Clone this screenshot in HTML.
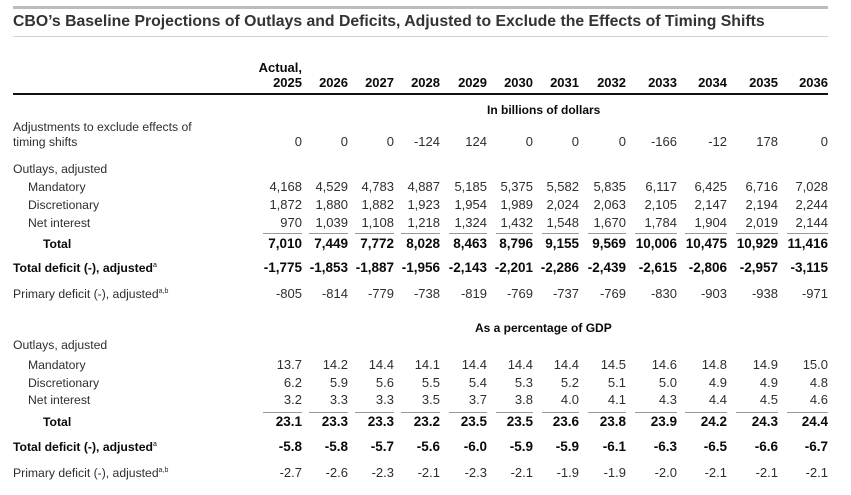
<!DOCTYPE html>
<html><head><meta charset="utf-8"><style>
*{margin:0;padding:0;box-sizing:border-box}
html,body{width:851px;height:495px;background:#fff;overflow:hidden}
body{position:relative;font-family:"Liberation Sans",Arial,sans-serif;color:#2e2e2e}
.a{position:absolute;white-space:nowrap}
.ln{position:absolute}
.r{position:absolute;left:0;width:851px;height:16px;line-height:16px}
.r>span{position:absolute;top:0;white-space:nowrap;font-size:13px}
.r>.l{left:13px;font-size:12.2px}
.r>.l2{left:28px;font-size:12.2px}
.r>.l3{left:43px;font-size:12.2px}
.b{font-weight:bold;color:#0a0a0a}
.b>span{font-size:13.5px}
.h>span{font-size:13px}
.s{font-style:normal;font-size:7px;position:relative;top:-5px;font-weight:normal}
.c1{right:549px}.c2{right:503px}.c3{right:457px}.c4{right:411px}.c5{right:364px}.c6{right:318px}
.c7{right:272px}.c8{right:225px}.c9{right:174px}.c10{right:124px}.c11{right:73px}.c12{right:23px}
.u{position:absolute;height:1.5px;background:#999}
</style></head><body>

<div class="ln" style="left:13px;top:6px;width:815px;height:2.5px;background:#bcbcbc"></div>
<div class="a" style="left:13px;top:13px;font-size:15.8px;line-height:18px;font-weight:bold;color:#333">CBO’s Baseline Projections of Outlays and Deficits, Adjusted to Exclude the Effects of Timing Shifts</div>
<div class="ln" style="left:13px;top:36px;width:815px;height:1px;background:#d2d2d2"></div>

<div class="r b h" style="top:59.5px"><span class="c1">Actual,</span></div>
<div class="r b h" style="top:74.5px"><span class="c1">2025</span><span class="c2">2026</span><span class="c3">2027</span><span class="c4">2028</span><span class="c5">2029</span><span class="c6">2030</span><span class="c7">2031</span><span class="c8">2032</span><span class="c9">2033</span><span class="c10">2034</span><span class="c11">2035</span><span class="c12">2036</span></div>
<div class="ln" style="left:13px;top:92.5px;width:815px;height:2px;background:#111"></div>

<div class="a" style="left:487px;top:102px;font-size:12px;line-height:16px;font-weight:bold;color:#0a0a0a">In billions of dollars</div>

<div class="r" style="top:119px"><span class="l">Adjustments to exclude effects of</span></div>
<div class="r" style="top:134px"><span class="l">timing shifts</span><span class="c1">0</span><span class="c2">0</span><span class="c3">0</span><span class="c4">-124</span><span class="c5">124</span><span class="c6">0</span><span class="c7">0</span><span class="c8">0</span><span class="c9">-166</span><span class="c10">-12</span><span class="c11">178</span><span class="c12">0</span></div>

<div class="r" style="top:161px"><span class="l">Outlays, adjusted</span></div>
<div class="r" style="top:179px"><span class="l2">Mandatory</span><span class="c1">4,168</span><span class="c2">4,529</span><span class="c3">4,783</span><span class="c4">4,887</span><span class="c5">5,185</span><span class="c6">5,375</span><span class="c7">5,582</span><span class="c8">5,835</span><span class="c9">6,117</span><span class="c10">6,425</span><span class="c11">6,716</span><span class="c12">7,028</span></div>
<div class="r" style="top:197px"><span class="l2">Discretionary</span><span class="c1">1,872</span><span class="c2">1,880</span><span class="c3">1,882</span><span class="c4">1,923</span><span class="c5">1,954</span><span class="c6">1,989</span><span class="c7">2,024</span><span class="c8">2,063</span><span class="c9">2,105</span><span class="c10">2,147</span><span class="c11">2,194</span><span class="c12">2,244</span></div>
<div class="r" style="top:215px"><span class="l2">Net interest</span><span class="c1">970</span><span class="c2">1,039</span><span class="c3">1,108</span><span class="c4">1,218</span><span class="c5">1,324</span><span class="c6">1,432</span><span class="c7">1,548</span><span class="c8">1,670</span><span class="c9">1,784</span><span class="c10">1,904</span><span class="c11">2,019</span><span class="c12">2,144</span></div>

<div class="u" style="top:232.5px;left:263px;width:39px"></div>
<div class="u" style="top:232.5px;left:309px;width:39px"></div>
<div class="u" style="top:232.5px;left:355px;width:39px"></div>
<div class="u" style="top:232.5px;left:401px;width:39px"></div>
<div class="u" style="top:232.5px;left:449px;width:38px"></div>
<div class="u" style="top:232.5px;left:496px;width:37px"></div>
<div class="u" style="top:232.5px;left:542px;width:37px"></div>
<div class="u" style="top:232.5px;left:588px;width:38px"></div>
<div class="u" style="top:232.5px;left:635px;width:42px"></div>
<div class="u" style="top:232.5px;left:685px;width:42px"></div>
<div class="u" style="top:232.5px;left:736px;width:42px"></div>
<div class="u" style="top:232.5px;left:787px;width:41px"></div>

<div class="r b" style="top:235.5px"><span class="l3">Total</span><span class="c1">7,010</span><span class="c2">7,449</span><span class="c3">7,772</span><span class="c4">8,028</span><span class="c5">8,463</span><span class="c6">8,796</span><span class="c7">9,155</span><span class="c8">9,569</span><span class="c9">10,006</span><span class="c10">10,475</span><span class="c11">10,929</span><span class="c12">11,416</span></div>
<div class="r b" style="top:260px"><span class="l">Total deficit (-), adjusted<i class="s">a</i></span><span class="c1">-1,775</span><span class="c2">-1,853</span><span class="c3">-1,887</span><span class="c4">-1,956</span><span class="c5">-2,143</span><span class="c6">-2,201</span><span class="c7">-2,286</span><span class="c8">-2,439</span><span class="c9">-2,615</span><span class="c10">-2,806</span><span class="c11">-2,957</span><span class="c12">-3,115</span></div>
<div class="r" style="top:285.5px"><span class="l">Primary deficit (-), adjusted<i class="s">a,b</i></span><span class="c1">-805</span><span class="c2">-814</span><span class="c3">-779</span><span class="c4">-738</span><span class="c5">-819</span><span class="c6">-769</span><span class="c7">-737</span><span class="c8">-769</span><span class="c9">-830</span><span class="c10">-903</span><span class="c11">-938</span><span class="c12">-971</span></div>

<div class="a" style="left:475px;top:320px;font-size:12px;line-height:16px;font-weight:bold;color:#0a0a0a">As a percentage of GDP</div>

<div class="r" style="top:337px"><span class="l">Outlays, adjusted</span></div>
<div class="r" style="top:357px"><span class="l2">Mandatory</span><span class="c1">13.7</span><span class="c2">14.2</span><span class="c3">14.4</span><span class="c4">14.1</span><span class="c5">14.4</span><span class="c6">14.4</span><span class="c7">14.4</span><span class="c8">14.5</span><span class="c9">14.6</span><span class="c10">14.8</span><span class="c11">14.9</span><span class="c12">15.0</span></div>
<div class="r" style="top:375px"><span class="l2">Discretionary</span><span class="c1">6.2</span><span class="c2">5.9</span><span class="c3">5.6</span><span class="c4">5.5</span><span class="c5">5.4</span><span class="c6">5.3</span><span class="c7">5.2</span><span class="c8">5.1</span><span class="c9">5.0</span><span class="c10">4.9</span><span class="c11">4.9</span><span class="c12">4.8</span></div>
<div class="r" style="top:392px"><span class="l2">Net interest</span><span class="c1">3.2</span><span class="c2">3.3</span><span class="c3">3.3</span><span class="c4">3.5</span><span class="c5">3.7</span><span class="c6">3.8</span><span class="c7">4.0</span><span class="c8">4.1</span><span class="c9">4.3</span><span class="c10">4.4</span><span class="c11">4.5</span><span class="c12">4.6</span></div>

<div class="u" style="top:411.5px;left:263px;width:39px"></div>
<div class="u" style="top:411.5px;left:309px;width:39px"></div>
<div class="u" style="top:411.5px;left:355px;width:39px"></div>
<div class="u" style="top:411.5px;left:401px;width:39px"></div>
<div class="u" style="top:411.5px;left:449px;width:38px"></div>
<div class="u" style="top:411.5px;left:496px;width:37px"></div>
<div class="u" style="top:411.5px;left:542px;width:37px"></div>
<div class="u" style="top:411.5px;left:588px;width:38px"></div>
<div class="u" style="top:411.5px;left:635px;width:42px"></div>
<div class="u" style="top:411.5px;left:685px;width:42px"></div>
<div class="u" style="top:411.5px;left:736px;width:42px"></div>
<div class="u" style="top:411.5px;left:787px;width:41px"></div>

<div class="r b" style="top:414px"><span class="l3">Total</span><span class="c1">23.1</span><span class="c2">23.3</span><span class="c3">23.3</span><span class="c4">23.2</span><span class="c5">23.5</span><span class="c6">23.5</span><span class="c7">23.6</span><span class="c8">23.8</span><span class="c9">23.9</span><span class="c10">24.2</span><span class="c11">24.3</span><span class="c12">24.4</span></div>
<div class="r b" style="top:439px"><span class="l">Total deficit (-), adjusted<i class="s">a</i></span><span class="c1">-5.8</span><span class="c2">-5.8</span><span class="c3">-5.7</span><span class="c4">-5.6</span><span class="c5">-6.0</span><span class="c6">-5.9</span><span class="c7">-5.9</span><span class="c8">-6.1</span><span class="c9">-6.3</span><span class="c10">-6.5</span><span class="c11">-6.6</span><span class="c12">-6.7</span></div>
<div class="r" style="top:465px"><span class="l">Primary deficit (-), adjusted<i class="s">a,b</i></span><span class="c1">-2.7</span><span class="c2">-2.6</span><span class="c3">-2.3</span><span class="c4">-2.1</span><span class="c5">-2.3</span><span class="c6">-2.1</span><span class="c7">-1.9</span><span class="c8">-1.9</span><span class="c9">-2.0</span><span class="c10">-2.1</span><span class="c11">-2.1</span><span class="c12">-2.1</span></div>

</body></html>
